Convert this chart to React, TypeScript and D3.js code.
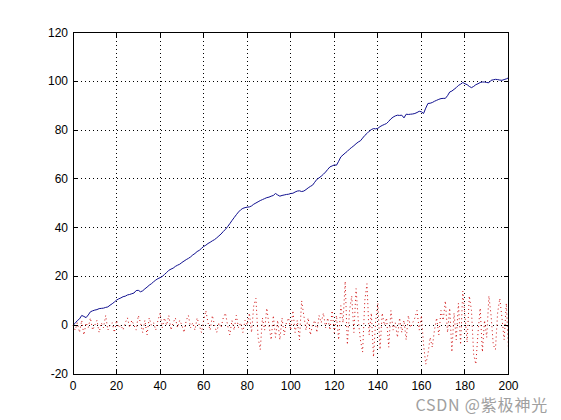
import React from "react";
import * as d3 from "d3";

const blueValues: number[] = [
  0, 0.8, 1.9, 2.6, 4.0, 3.6, 3.1, 4.2, 5.5, 5.9,
  6.2, 6.4, 6.8, 6.9, 7.0, 7.3, 7.5, 8.2, 8.8, 9.5,
  10.3, 10.8, 11.2, 11.7, 11.9, 12.4, 12.6, 12.9, 13.2, 14.2,
  14.3, 13.7, 14.1, 14.9, 15.6, 16.4, 17.0, 17.8, 18.5, 19.1,
  19.5, 20.0, 20.8, 21.6, 22.5, 23.0, 23.4, 24.1, 24.6, 25.0,
  25.7, 26.3, 26.9, 27.4, 28.0, 28.8, 29.4, 30.2, 30.7, 31.5,
  32.3, 32.8, 33.5, 34.0, 34.6, 35.1, 35.8, 36.6, 37.4, 38.4,
  39.3, 40.4, 41.6, 42.9, 44.1, 45.3, 46.4, 47.3, 47.9, 48.2,
  48.4, 48.5, 48.9, 49.6, 50.1, 50.6, 51.1, 51.5, 51.9, 52.3,
  52.5, 52.9, 53.2, 54.0, 53.4, 52.9, 53.2, 53.4, 53.6, 53.7,
  54.0, 54.1, 54.6, 55.0, 55.1, 54.8, 55.0, 55.6, 56.3, 56.9,
  57.4, 58.6, 59.8, 60.4, 61.1, 61.9, 62.8, 63.9, 64.9, 65.3,
  65.7, 65.6, 67.2, 69.0, 69.8, 70.6, 71.3, 72.2, 72.9, 73.6,
  74.4, 75.1, 75.6, 76.7, 77.8, 78.6, 79.5, 80.2, 80.6, 80.5,
  80.7, 81.4, 81.9, 82.3, 82.7, 83.6, 84.6, 85.3, 85.8, 86.1,
  86.0, 86.1, 85.0, 86.5, 86.4, 86.5, 86.6, 86.8, 87.2, 87.7,
  87.5, 86.8, 89.0, 90.9, 91.0, 91.3, 91.8, 92.2, 92.6, 92.9,
  93.0, 93.0, 94.1, 95.6, 96.0, 96.7, 97.4, 98.3, 98.8, 99.5,
  99.0, 98.6, 97.9, 97.4, 97.9, 98.6, 99.0, 99.5, 99.7, 99.7,
  99.5, 99.4, 100.4, 100.6, 100.8, 100.7, 100.5, 100.4, 100.7, 101.0,
  101.4,
];

const redValues: number[] = [
  0, -2, 1, -3, 2, -4, 1, -1, 3, -2,
  0, 2, -3, 1, -1, 4, -2, 0, 1, -3,
  2, -1, 0, -2, 1, 3, -1, 2, 0, -2,
  4, 1, -3, 2, -4, 3, 0, 1, -2, 2,
  5, -1, 3, 0, 4, -2, 1, 3, -1, 2,
  0, -3, 2, 4, -1, 1, -2, 3, 0, -3,
  2, 6, 1, -2, 4, 0, -3, 1, -1, 3,
  5, 0, -4, 2, -2, 4, -1, 1, -3, 2,
  0, 5, -3, 8, 11, -5, -10, 3, -2, 7,
  0, -6, 4, -5, 2, -6, 3, -4, 1, 3,
  -2, 6, -3, 2, -6, 10, 4, -2, 3, -4,
  0, 2, -3, 4, 1, 5, -1, 3, -2, 6,
  -3, 4, -6, 8, 1, 18, -8, 6, 12, -3,
  15, 2, -6, -11, 10, 17, -4, 5, -13, 2,
  9, -10, 5, 0, 3, -9, 6, -2, 1, -5,
  3, -3, 2, -6, 4, -1, 1, 3, 6, -2,
  4, -8, -16, -12, -5, -9, -2, 3, -4, 6,
  2, 10, -3, 7, -11, 5, -6, 9, -8, 14,
  4, -7, 12, 6, -12, -16, -3, 7, -11, 2,
  -5, 12, 4, -8, -10, 5, 11, 3, -6, 9,
  -10,
];

const xTicks: number[] = [0, 20, 40, 60, 80, 100, 120, 140, 160, 180, 200];
const yTicks: number[] = [-20, 0, 20, 40, 60, 80, 100, 120];

const W = 561;
const H = 420;
const left = 73;
const right = 508.5;
const top = 32.5;
const bottom = 374;

export default function App() {
  const x = d3.scaleLinear().domain([0, 200]).range([left, right]);
  const y = d3.scaleLinear().domain([-20, 120]).range([bottom, top]);
  const line = d3
    .line<number>()
    .x((_, i) => x(i))
    .y((d) => y(d));
  const tickLen = 5;
  const font = "'Liberation Sans', Arial, sans-serif";

  return (
    <svg
      width={W}
      height={H}
      style={{ position: "absolute", left: 0, top: 0, background: "#fff" }}
    >
      <rect x={0} y={0} width={W} height={H} fill="#fff" />
      {xTicks.slice(1, -1).map((t) => (
        <line
          key={"gx" + t}
          x1={x(t)}
          x2={x(t)}
          y1={top}
          y2={bottom}
          stroke="#000"
          strokeWidth={1}
          strokeDasharray="1,3"
          shapeRendering="crispEdges"
        />
      ))}
      {yTicks.slice(1, -1).map((t) => (
        <line
          key={"gy" + t}
          x1={left}
          x2={right}
          y1={y(t)}
          y2={y(t)}
          stroke="#000"
          strokeWidth={1}
          strokeDasharray="1,3"
          shapeRendering="crispEdges"
        />
      ))}
      <path
        d={line(redValues) || ""}
        fill="none"
        stroke="#d01010"
        strokeWidth={1}
        strokeDasharray="1,3"
      />
      <path d={line(blueValues) || ""} fill="none" stroke="#101090" strokeWidth={1} />
      <rect
        x={left}
        y={top}
        width={right - left}
        height={bottom - top}
        fill="none"
        stroke="#000"
        strokeWidth={1}
        shapeRendering="crispEdges"
      />
      {xTicks.map((t) => (
        <g key={"tx" + t}>
          <line x1={x(t)} x2={x(t)} y1={bottom} y2={bottom - tickLen} stroke="#000" shapeRendering="crispEdges" />
          <line x1={x(t)} x2={x(t)} y1={top} y2={top + tickLen} stroke="#000" shapeRendering="crispEdges" />
          <text
            x={x(t)}
            y={bottom + 16}
            textAnchor="middle"
            fontFamily={font}
            fontSize={12}
            fill="#000"
          >
            {t}
          </text>
        </g>
      ))}
      {yTicks.map((t) => (
        <g key={"ty" + t}>
          <line x1={left} x2={left + tickLen} y1={y(t)} y2={y(t)} stroke="#000" shapeRendering="crispEdges" />
          <line x1={right} x2={right - tickLen} y1={y(t)} y2={y(t)} stroke="#000" shapeRendering="crispEdges" />
          <text
            x={left - 5}
            y={y(t) + 4}
            textAnchor="end"
            fontFamily={font}
            fontSize={12}
            fill="#000"
          >
            {t}
          </text>
        </g>
      ))}
      <text
        x={548}
        y={411}
        textAnchor="end"
        fontFamily="'Noto Sans CJK SC', 'Liberation Sans', sans-serif"
        fontSize={16}
        letterSpacing={0.8}
        fill="#a0a0a0"
      >
        CSDN @紫极神光
      </text>
    </svg>
  );
}
